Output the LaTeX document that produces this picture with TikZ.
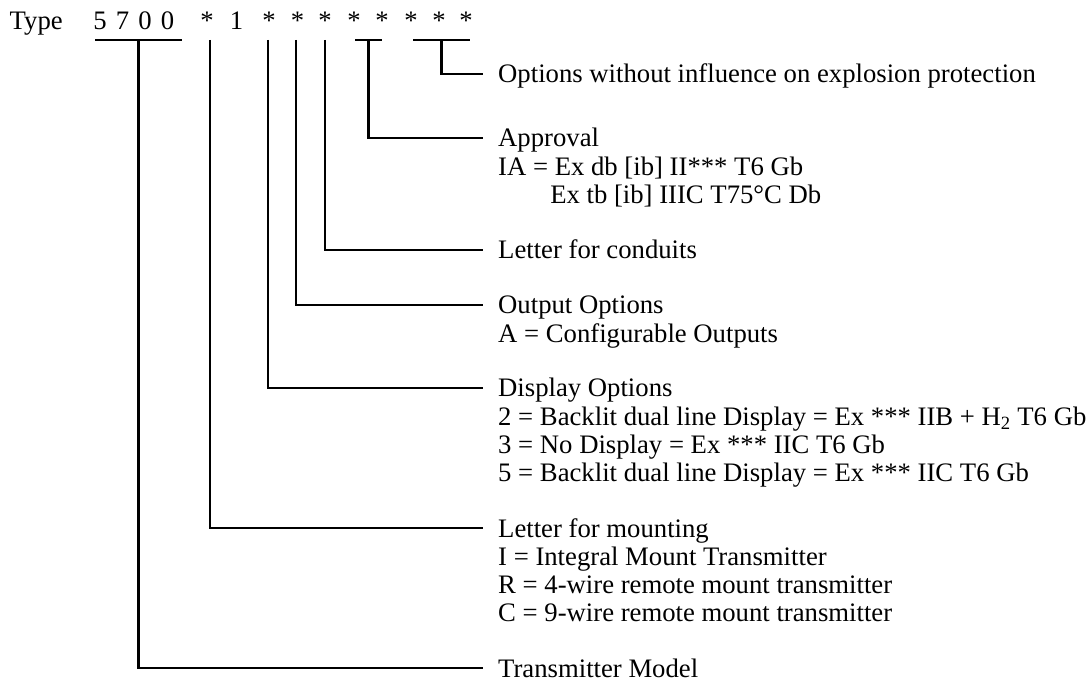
\documentclass[tikz,border=0pt]{standalone}
\usepackage{fontspec}
\setmainfont{Liberation Serif}
\usetikzlibrary{positioning, calc}

\begin{document}
\begin{tikzpicture}[
  x=1pt, y=-1pt,
  font=\fontsize{26.7}{28.3}\selectfont,
  % Node styles
  code/.style  = {anchor=base, inner sep=0pt},
  group/.style = {anchor=base west, inner sep=0pt},
  % Leader style
  lead/.style  = {line width=2.8pt}
]
\useasboundingbox (0,0) rectangle (1087,684);

% =========================== TYPE CODE ===========================
\node[code, anchor=base west] (type) at (9.5,30) {Type};
\foreach \c/\x [count=\i] in {5/100, 7/122.5, 0/145, 0/167.5, */207, 1/236.5,
                              */269, */297.5, */325, */354, */382, */411, */439, */466}
  \node[code] (c\i) at (\x,30) {\c};

% leader tops
\coordinate (bar1a) at (95,40);   \coordinate (bar1b) at (182,40);
\coordinate (k2)    at (210,40);
\coordinate (k3)    at (268,40);
\coordinate (k4)    at (296,40);
\coordinate (k5)    at (325,40);
\coordinate (bar6a) at (355,40);  \coordinate (bar6b) at (382,40);
\coordinate (bar7a) at (413,40);  \coordinate (bar7b) at (470,40);

% =========================== DESCRIPTIONS ===========================
\node[group] (opt) at (498,83)
  {Options without influence on explosion protection};
\node[group] (appr) at (498,147)
  {\begin{tabular}[t]{@{}l@{}}
   Approval\\
   IA = Ex db [ib] II*** T6 Gb\\
   \hspace{1.95em}Ex tb [ib] IIIC T75°C Db
   \end{tabular}};
\node[group] (cond) at (498,259) {Letter for conduits};
\node[group] (outp) at (498,314)
  {\begin{tabular}[t]{@{}l@{}}
   Output Options\\
   A = Configurable Outputs
   \end{tabular}};
\node[group] (disp) at (498,397)
  {\begin{tabular}[t]{@{}l@{}}
   Display Options\\
   2 = Backlit dual line Display = Ex *** IIB + H\textsubscript{2} T6 Gb\\
   3 = No Display = Ex *** IIC T6 Gb\\
   5 = Backlit dual line Display = Ex *** IIC T6 Gb
   \end{tabular}};
\node[group] (mount) at (498,537)
  {\begin{tabular}[t]{@{}l@{}}
   Letter for mounting\\
   I = Integral Mount Transmitter\\
   R = 4-wire remote mount transmitter\\
   C = 9-wire remote mount transmitter
   \end{tabular}};
\node[group] (model) at (498,677) {Transmitter Model};

% =========================== LEADERS ===========================
\draw[lead] (bar1a) -- (bar1b);
\draw[lead] ($(bar1a)!0.5!(bar1b)$) |- ([xshift=-15pt,yshift=9pt]model.base west);
\draw[lead] (k2) |- ([xshift=-15pt,yshift=9pt]mount.base west);
\draw[lead] (k3) |- ([xshift=-15pt,yshift=9pt]disp.base west);
\draw[lead] (k4) |- ([xshift=-15pt,yshift=9pt]outp.base west);
\draw[lead] (k5) |- ([xshift=-15pt,yshift=9pt]cond.base west);
\draw[lead] (bar6a) -- (bar6b);
\draw[lead] ($(bar6a)!0.5!(bar6b)$) |- ([xshift=-15pt,yshift=9pt]appr.base west);
\draw[lead] (bar7a) -- (bar7b);
\draw[lead] ($(bar7a)!0.5!(bar7b)$) |- ([xshift=-15pt,yshift=9pt]opt.base west);

\end{tikzpicture}
\end{document}
